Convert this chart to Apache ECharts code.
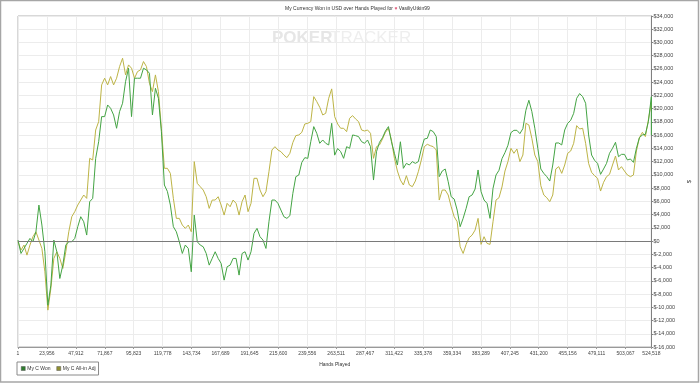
<!DOCTYPE html>
<html>
<head>
<meta charset="utf-8">
<script src="https://cdn.jsdelivr.net/npm/echarts@6/dist/echarts.min.js"></script>
<style>
html,body{margin:0;padding:0;background:#fff;}
#chart{width:700px;height:384px;}
</style>
</head>
<body>
<div id="chart"></div>
<script>
var titleText = 'My Currency Won in USD over Hands Played for';
var playerName = 'VasiliyUtkin99';
var seriesNames = ['My C Won', 'My C All-in Adj'];
var xTicks = [1, 23956, 47912, 71867, 95823, 119778, 143734, 167689, 191645, 215600, 239556, 263511, 287467, 311422, 335378, 359334, 383289, 407245, 431200, 455156, 479111, 503067, 524518];

var hands = [
1, 2475, 4949, 7423, 9897, 12371, 14845, 17319, 19793, 22267,
24741, 27215, 29689, 32163, 34637, 37111, 39585, 42059, 44533, 47007,
49481, 51955, 54429, 56903, 59377, 61851, 64325, 66799, 69273, 71747,
74221, 76695, 79169, 81643, 84117, 86591, 89065, 91539, 94013, 96487,
98961, 101435, 103909, 106383, 108857, 111331, 113805, 116279, 118753, 121227,
123701, 126175, 128649, 131123, 133597, 136071, 138545, 141019, 143493, 145967,
148441, 150915, 153389, 155863, 158337, 160811, 163285, 165759, 168233, 170707,
173181, 175655, 178129, 180603, 183077, 185551, 188025, 190499, 192973, 195447,
197921, 200395, 202869, 205343, 207817, 210291, 212765, 215239, 217713, 220187,
222661, 225135, 227609, 230083, 232557, 235031, 237505, 239979, 242453, 244927,
247401, 249875, 252349, 254823, 257297, 259771, 262245, 264719, 267193, 269667,
272141, 274615, 277089, 279563, 282037, 284511, 286985, 289459, 291933, 294407,
296881, 299355, 301829, 304303, 306777, 309251, 311725, 314199, 316673, 319147,
321621, 324095, 326569, 329043, 331517, 333991, 336465, 338939, 341413, 343887,
346361, 348835, 351309, 353783, 356257, 358731, 361205, 363679, 366153, 368627,
371101, 373575, 376049, 378523, 380997, 383471, 385945, 388419, 390893, 393367,
395841, 398315, 400789, 403263, 405737, 408211, 410685, 413159, 415633, 418107,
420581, 423055, 425529, 428003, 430477, 432951, 435425, 437899, 440373, 442847,
445321, 447795, 450269, 452743, 455217, 457691, 460165, 462639, 465113, 467587,
470061, 472535, 475009, 477483, 479957, 482431, 484905, 487379, 489853, 492327,
494801, 497275, 499749, 502223, 504697, 507171, 509645, 512119, 514593, 517067,
519541, 522015, 524489, 524518
];

var won = [
150, -1870, -1110, -350, 400, -100, 1410, 5440, 2420, -1610,
-9680, -6650, 150, -1610, -5650, -3630, -600, -100, -100, 400,
2170, 3680, 2920, 910, 5950, 6450, 12500, 15020, 18800, 18800,
20560, 20060, 19050, 17040, 19560, 20820, 24090, 26110, 18800, 24600,
24600, 24600, 26110, 25860, 25350, 19050, 23080, 21570, 16530, 8470,
7500, 5440, 2170, 1410, -100,
-1870, -600, -1110, -4640, 3930, -100, -600, -860, -1870, -3630,
-2620, -1610, -2620, -3380, -5900, -3880, -3630, -2620, -2620, -5140,
-1870, -1610, -2870, -1610, 1160, 1920, 660, 150, -1110, 2920,
6200, 6200, 5700, 4690, 3680, 3430, 3830, 7210, 9730, 9980,
11890, 12600, 12500, 15020, 17290, 16280, 14770, 15270, 14770, 14520,
17790, 12980, 13990,
13510, 12500, 14260, 14010, 16030, 15930, 15780, 15020, 14770, 15270,
14260, 9220, 13510, 14920, 15620, 16630, 17290, 15020, 13260, 11490,
15000, 10990, 11740, 11490, 12000, 11740, 12000, 13910, 15420, 15520,
16780, 16530, 15780, 9730, 10580, 10890, 8970, 6700, 6350, 4690,
2170, 3430, 4940, 6700, 6960, 7860, 10740, 7460, 6200, 5700,
3430, 7960, 9980,
10690, 12450, 13360, 14470, 16380, 16730, 16730, 16230, 16990, 19760,
21270, 19560, 17040, 14010, 10890, 10230, 9730, 9070, 11490, 14820,
14820, 14520, 16780, 17790, 18250, 19300, 21570, 22280, 21820, 20820,
16030, 13000, 12200, 11740, 10080, 10890, 11740, 13260, 14010, 14920,
12750, 13100, 13100, 12250, 12400, 11890, 14010, 15620, 16030, 16130,
18040, 21800, 16000
];

var allInAdj = [
-100, -1360, -600, -2120, -600, 660, 1410, 150, -1110, -4640,
-10430, -7160, -2620, -1610, -2620, -4130, -1610, 1410, 3680, 4440,
5440, 6200, 6960, 6450, 12500, 12250, 16780, 18040, 23590, 24600,
23590, 24850, 23590, 24600, 26360, 27620, 25100, 26610, 26110, 24600,
25600, 25860, 27120, 26360, 23840, 22580, 25100, 22580, 17040, 10990,
10990, 10230, 6450, 3430, 3430,
2420, 1920, 2420, 1410, 12000, 8720, 8220, 7710, 6700, 4940,
6200, 6200, 6700, 5440, 3930, 5700, 5190, 6200, 5700, 3930,
5950, 6960, 4440, 5700, 9480, 9480, 7710, 6700, 7460, 10480,
13760, 14260, 13760, 13510, 13000, 12600, 13260, 14890, 15930, 16030,
16430, 17690, 17790, 18040, 21820, 21070, 20210, 19050, 19300, 21570,
22990, 18800, 17690,
17040, 17040, 16530, 18550, 18950, 18450, 18040, 16780, 16630, 16780,
16280, 12500, 14260, 14520, 15420, 16430, 17040, 15270, 12500, 10580,
9220, 8470, 9880, 8470, 8220, 9070, 10480, 12250, 14260, 14620,
14410, 14260, 13760, 6200, 7710, 7710, 6960, 5190, 3680, 2920,
-860, -1870, -500, 500, 910, 1660, 3430, -500, 660, -350,
-500, 2920, 6200,
6550, 8170, 10580, 12000, 14010, 13260, 13910, 12000, 13000, 17790,
17540, 15520, 13000, 12000, 8370, 6960, 6550, 5950, 6960, 10890,
11240, 10230, 11490, 13260, 13610, 14770, 17440, 16930, 17040, 14770,
11740, 10380, 9880, 9480, 7560, 8870, 9730, 10080, 11490, 12850,
10740, 11240, 10580, 9980, 9730, 9980, 13610, 15620, 16430, 15780,
18300, 21000, 20000
];

function commas(v) {
  var s = Math.abs(Math.round(v)).toString().replace(/\B(?=(\d{3})+(?!\d))/g, ',');
  return (v < 0 ? '-' : '') + s;
}

var FONT = '"Liberation Sans", Arial, sans-serif';
var chart = echarts.init(document.getElementById('chart'), null, {renderer: 'canvas'});

var wonData = hands.map(function (h, i) { return [h, won[i]]; });
var adjData = hands.map(function (h, i) { return [h, allInAdj[i]]; });

chart.setOption({
  animation: false,
  backgroundColor: '#ffffff',
  textStyle: {fontFamily: FONT},
  title: {
    text: titleText + ' {h|\u2665} ' + playerName,
    left: 285,
    top: 6,
    padding: 0,
    textStyle: {
      fontSize: 5, fontWeight: 'normal', color: '#333', fontFamily: FONT,
      rich: {h: {fontSize: 5, color: '#e05a7a'}}
    }
  },
  graphic: [
    {type: 'rect', shape: {x: 0.5, y: 0.5, width: 698, height: 381.5},
     style: {fill: 'none', stroke: '#a6a6a6', lineWidth: 1.5}, silent: true, z: 100},
    {type: 'text', x: 272, y: 38, z: 0, silent: true,
     style: {text: 'POKER', fontSize: 17, fontWeight: 'bold', fontFamily: FONT, fill: '#e6e6e6', verticalAlign: 'middle'}},
    {type: 'text', x: 330, y: 38, z: 0, silent: true,
     style: {text: 'TRACKER', fontSize: 17, fontFamily: FONT, fill: '#eeeeee', verticalAlign: 'middle'}}
  ],
  legend: {
    left: 17, top: 362,
    orient: 'horizontal',
    icon: 'rect',
    itemWidth: 4, itemHeight: 4, itemGap: 6,
    padding: [4, 3, 4, 4],
    borderColor: '#8a8a8a', borderWidth: 1,
    textStyle: {fontSize: 5, color: '#333', fontFamily: FONT, padding: [0, 0, 0, -3]},
    data: [
      {name: seriesNames[0], itemStyle: {color: '#2e7d2e', borderColor: '#555', borderWidth: 0.5}},
      {name: seriesNames[1], itemStyle: {color: '#8f8f30', borderColor: '#555', borderWidth: 0.5}}
    ]
  },
  grid: {left: 18, right: 45, top: 16, bottom: 37, show: true, borderColor: '#b0b0b0', borderWidth: 1},
  xAxis: {
    type: 'value', min: 1, max: 524518,
    name: 'Hands Played', nameLocation: 'middle', nameGap: 15,
    nameTextStyle: {fontSize: 5, color: '#333', fontFamily: FONT},
    axisLine: {show: true, onZero: false, lineStyle: {color: '#999'}},
    axisTick: {show: true, length: 2, customValues: xTicks, lineStyle: {color: '#999'}},
    axisLabel: {customValues: xTicks, fontSize: 5, color: '#444', margin: 4, fontFamily: FONT,
      formatter: function (v) { return commas(v); }},
    splitLine: {show: true, lineStyle: {color: '#ececec', width: 1}}
  },
  yAxis: {
    type: 'value', position: 'right', min: -16000, max: 34000, interval: 2000,
    name: '$', nameLocation: 'middle', nameGap: 24, nameRotate: 90,
    nameTextStyle: {fontSize: 6, color: '#333', fontFamily: FONT},
    axisLine: {show: true, lineStyle: {color: '#808080'}},
    axisTick: {show: true, length: 2, lineStyle: {color: '#808080'}},
    axisLabel: {fontSize: 5.5, color: '#444', margin: 2, fontFamily: FONT,
      formatter: function (v) { return '$' + commas(v); }},
    splitLine: {show: true, lineStyle: {color: '#ececec', width: 1}}
  },
  series: [
    {
      name: seriesNames[1], type: 'line', data: adjData,
      showSymbol: false, symbol: 'none',
      lineStyle: {color: '#bdb446', width: 1},
      itemStyle: {color: '#8f8f30'},
      z: 3,
      markLine: {
        silent: true, symbol: 'none', label: {show: false},
        lineStyle: {color: '#7a7a7a', width: 1, type: 'solid'},
        data: [{yAxis: 0}]
      }
    },
    {
      name: seriesNames[0], type: 'line', data: wonData,
      showSymbol: false, symbol: 'none',
      lineStyle: {color: '#44a444', width: 1},
      itemStyle: {color: '#2e7d2e'},
      z: 4
    }
  ]
});
</script>
</body>
</html>
